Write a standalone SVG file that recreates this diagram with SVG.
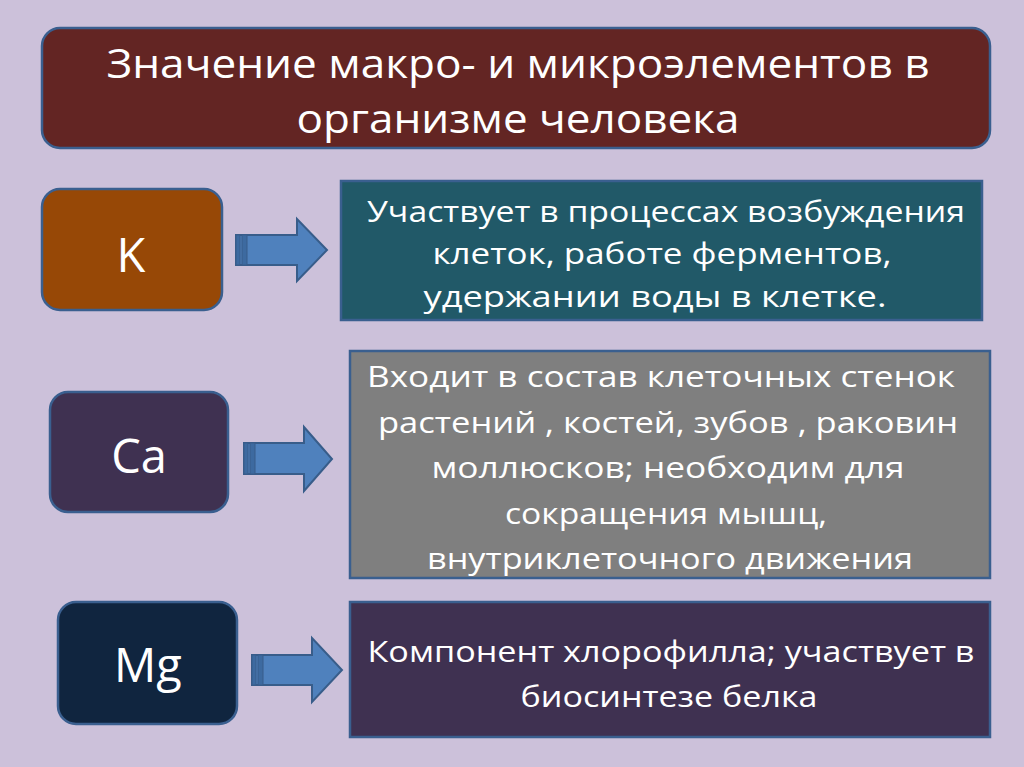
<svg xmlns="http://www.w3.org/2000/svg" width="1024" height="767" viewBox="0 0 1024 767">
<style>
.t{font-family:"Open Sans","Liberation Sans",sans-serif;fill:#ffffff;text-anchor:middle}
.b{font-size:30px}
.h{font-size:41px}
.e{font-size:47px}
.box{stroke:#3a5f8f;stroke-width:2.5}
.arr{fill:#4f81bd;stroke:#385d8a;stroke-width:2}
.str{fill:#3d6aa0;stroke:#385d8a;stroke-width:1}
</style>
<rect width="1024" height="767" fill="#ccc1da"/>
<g id="title">
<rect class="box" x="42" y="28" width="948" height="120" rx="18" fill="#632523" stroke-width="3"/>
<text class="t h" x="518" y="78" textLength="823" lengthAdjust="spacingAndGlyphs">Значение макро- и микроэлементов в</text>
<text class="t h" x="518" y="133" textLength="443" lengthAdjust="spacingAndGlyphs">организме человека</text>
</g>
<g id="node-K">
<rect class="box" x="42" y="189" width="180" height="121" rx="18" fill="#974806"/>
<text class="t e" x="131" y="272">K</text>
</g>
<g id="text-K">
<rect class="box" x="341" y="181" width="641" height="139" fill="#215968" stroke-width="2"/>
<text class="t b" x="666" y="222" textLength="598" lengthAdjust="spacingAndGlyphs">Участвует в процессах возбуждения</text>
<text class="t b" x="662" y="264" textLength="459" lengthAdjust="spacingAndGlyphs">клеток, работе ферментов,</text>
<text class="t b" x="655" y="307" textLength="463" lengthAdjust="spacingAndGlyphs">удержании воды в клетке.</text>
</g>
<g id="node-Ca">
<rect class="box" x="50" y="392" width="178" height="120" rx="18" fill="#3f3151"/>
<text class="t e" x="139" y="473">Ca</text>
</g>
<g id="text-Ca">
<rect class="box" x="350" y="351" width="640" height="227" fill="#7f7f7f" stroke-width="2"/>
<text class="t b" x="661" y="387" textLength="588" lengthAdjust="spacingAndGlyphs">Входит в состав клеточных стенок</text>
<text class="t b" x="668" y="433" textLength="580" lengthAdjust="spacingAndGlyphs">растений , костей, зубов , раковин</text>
<text class="t b" x="668" y="478" textLength="473" lengthAdjust="spacingAndGlyphs">моллюсков; необходим для</text>
<text class="t b" x="666" y="524" textLength="322" lengthAdjust="spacingAndGlyphs">сокращения мышц,</text>
<text class="t b" x="670" y="569" textLength="486" lengthAdjust="spacingAndGlyphs">внутриклеточного движения</text>
</g>
<g id="node-Mg">
<rect class="box" x="58" y="602" width="179" height="122" rx="18" fill="#10253f"/>
<text class="t e" x="148" y="682">Mg</text>
</g>
<g id="text-Mg">
<rect class="box" x="350" y="602" width="640" height="135" fill="#3f3151" stroke-width="2"/>
<text class="t b" x="671" y="662" textLength="607" lengthAdjust="spacingAndGlyphs">Компонент хлорофилла; участвует в</text>
<text class="t b" x="669" y="707" textLength="297" lengthAdjust="spacingAndGlyphs">биосинтезе белка</text>
</g>
<g id="connectors">
<g id="arrow-K">
<path class="arr" d="M236,235 H297 V219 L327,250 L297,281 V265 H236 Z"/>
<rect class="str" x="236" y="235" width="4" height="30"/>
<rect class="str" x="242" y="235" width="5" height="30"/>
</g>
<g id="arrow-Ca">
<path class="arr" d="M244,443 H304 V427 L332,459 L304,491 V474 H244 Z"/>
<rect class="str" x="244" y="443" width="4" height="31"/>
<rect class="str" x="250" y="443" width="5" height="31"/>
</g>
<g id="arrow-Mg">
<path class="arr" d="M252,655 H312 V638 L342,670 L312,702 V685 H252 Z"/>
<rect class="str" x="252" y="655" width="4" height="30"/>
<rect class="str" x="258" y="655" width="5" height="30"/>
</g>
</g>
</svg>
